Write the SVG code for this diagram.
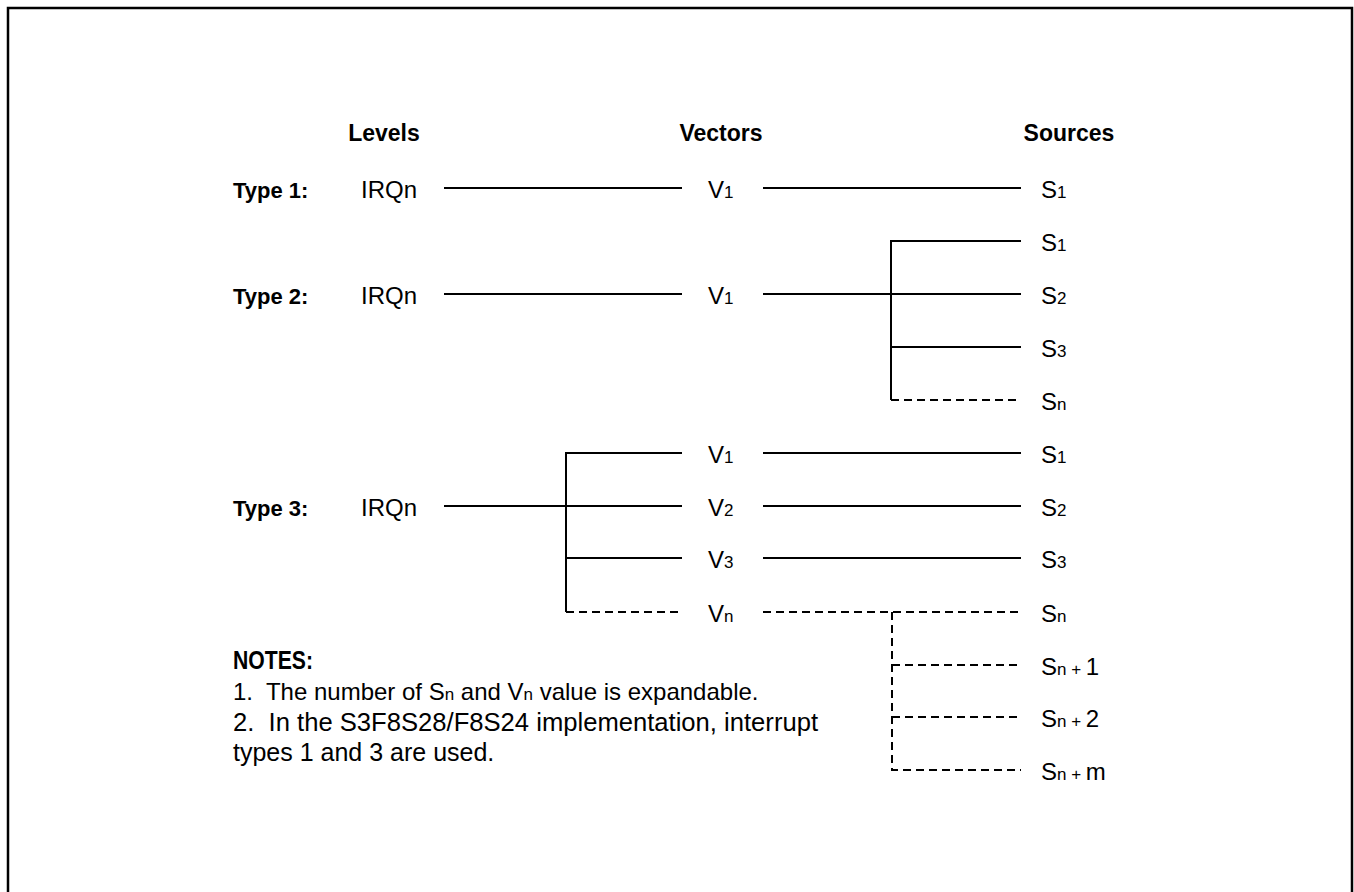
<svg xmlns="http://www.w3.org/2000/svg" width="1354" height="892" viewBox="0 0 1354 892">
<style>
text{font-family:"Liberation Sans",Arial,sans-serif;font-size:24px;fill:#000;white-space:pre}
.b{font-weight:bold;font-size:22px}
.h{font-weight:bold;font-size:23px}
.s{font-size:17px}
.n{font-size:25px}
.ln{stroke:#000;stroke-width:2;fill:none}
.d{stroke:#000;stroke-width:2;fill:none;stroke-dasharray:8 5}
</style>
<rect width="1354" height="892" fill="#fff"/>
<path d="M8,892 V8 H1352 V892" fill="none" stroke="#000" stroke-width="2.5"/>
<g id="headers">
<text class="h" x="384" y="141" text-anchor="middle">Levels</text>
<text class="h" x="721" y="141" text-anchor="middle">Vectors</text>
<text class="h" x="1069" y="141" text-anchor="middle">Sources</text>
</g>
<g id="connectors">
<path class="ln" d="M444,188 H682 M763,188 H1021"/>
<path class="ln" d="M444,294 H682 M763,294 H1021 M891,400 V241 H1021 M891,347 H1021"/>
<path class="d" d="M891,400 H1021"/>
<path class="ln" d="M444,506 H682 M566,612 V453 H682 M566,558 H682 M763,453 H1021 M763,506 H1021 M763,558 H1021"/>
<path class="d" d="M566,612 H682 M763,612 H1021 M892,612 V770 H1021 M892,665 H1021 M892,717 H1021"/>
</g>
<g id="type1">
<text class="b" x="233" y="198">Type 1:</text>
<text x="361" y="198">IRQn</text>
<text x="708" y="198">V<tspan class="s">1</tspan></text>
<text x="1041" y="198">S<tspan class="s">1</tspan></text>
</g>
<g id="type2">
<text x="1041" y="251">S<tspan class="s">1</tspan></text>
<text class="b" x="233" y="304">Type 2:</text>
<text x="361" y="304">IRQn</text>
<text x="708" y="304">V<tspan class="s">1</tspan></text>
<text x="1041" y="304">S<tspan class="s">2</tspan></text>
<text x="1041" y="357">S<tspan class="s">3</tspan></text>
<text x="1041" y="410">S<tspan class="s">n</tspan></text>
</g>
<g id="type3">
<text x="708" y="463">V<tspan class="s">1</tspan></text>
<text x="1041" y="463">S<tspan class="s">1</tspan></text>
<text class="b" x="233" y="516">Type 3:</text>
<text x="361" y="516">IRQn</text>
<text x="708" y="516">V<tspan class="s">2</tspan></text>
<text x="1041" y="516">S<tspan class="s">2</tspan></text>
<text x="708" y="568">V<tspan class="s">3</tspan></text>
<text x="1041" y="568">S<tspan class="s">3</tspan></text>
<text x="708" y="622">V<tspan class="s">n</tspan></text>
<text x="1041" y="622">S<tspan class="s">n</tspan></text>
<text x="1041" y="675">S<tspan class="s">n + </tspan>1</text>
<text x="1041" y="727">S<tspan class="s">n + </tspan>2</text>
<text x="1041" y="780">S<tspan class="s">n + </tspan>m</text>
</g>
<g id="notes">
<text class="n" x="233" y="669" font-weight="bold" textLength="80" lengthAdjust="spacingAndGlyphs">NOTES:</text>
<text x="233" y="700">1.  The number of S<tspan class="s">n</tspan> and V<tspan class="s">n</tspan> value is expandable.</text>
<text class="n" x="233" y="731" textLength="585" lengthAdjust="spacingAndGlyphs">2.  In the S3F8S28/F8S24 implementation, interrupt</text>
<text class="n" x="233" y="761">types 1 and 3 are used.</text>
</g>
</svg>
